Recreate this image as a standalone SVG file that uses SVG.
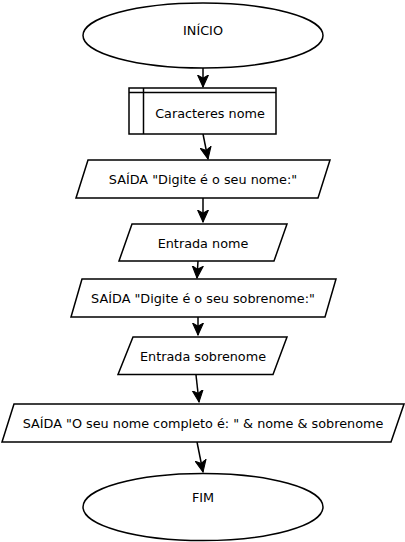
<svg xmlns="http://www.w3.org/2000/svg" width="405" height="542" viewBox="0 0 405 542">
<style>
.s{fill:#fff;stroke:#000;stroke-width:1.5}
.t{font-family:"DejaVu Sans",sans-serif;font-size:12.8px;fill:#000;text-anchor:middle;dominant-baseline:central}
.e{fill:none;stroke:#000;stroke-width:1.5}
</style>
<defs>
<marker id="a" markerUnits="userSpaceOnUse" markerWidth="13" markerHeight="13" viewBox="0 0 12 10" refX="11" refY="5" orient="auto">
<path d="M0,0 L11,5 L0,10 L3,5 z" fill="#000" stroke="#000" stroke-width="1"/>
</marker>
</defs>
<g id="edges">
<line class="e" x1="203" y1="68" x2="203" y2="87" marker-end="url(#a)"/>
<line class="e" x1="203" y1="134" x2="208" y2="159" marker-end="url(#a)"/>
<line class="e" x1="203" y1="198" x2="203" y2="222" marker-end="url(#a)"/>
<line class="e" x1="198" y1="261" x2="197" y2="278" marker-end="url(#a)"/>
<line class="e" x1="198" y1="317" x2="198" y2="335" marker-end="url(#a)"/>
<line class="e" x1="196" y1="375" x2="199" y2="402" marker-end="url(#a)"/>
<line class="e" x1="197" y1="442" x2="203" y2="472" marker-end="url(#a)"/>
</g>
<g id="inicio">
<ellipse class="s" cx="203" cy="35.5" rx="120" ry="32.5"/>
<text class="t" x="203" y="30">INÍCIO</text>
</g>
<g id="caracteres">
<rect class="s" x="129" y="88" width="147" height="46"/>
<line class="e" x1="129" y1="92.5" x2="276" y2="92.5"/>
<line class="e" x1="143.5" y1="88" x2="143.5" y2="134"/>
<text class="t" x="210" y="113">Caracteres nome</text>
</g>
<g id="saida1">
<polygon class="s" points="88,160 330,160 318,198 76,198"/>
<text class="t" x="203" y="179">SAÍDA "Digite é o seu nome:"</text>
</g>
<g id="entrada1">
<polygon class="s" points="132,224 287,224 274,261 119,261"/>
<text class="t" x="203" y="243">Entrada nome</text>
</g>
<g id="saida2">
<polygon class="s" points="82,279 336,279 325,317 71,317"/>
<text class="t" x="203" y="298">SAÍDA "Digite é o seu sobrenome:"</text>
</g>
<g id="entrada2">
<polygon class="s" points="133,337 287,337 273,374.5 118,374.5"/>
<text class="t" x="203" y="356">Entrada sobrenome</text>
</g>
<g id="saida3">
<polygon class="s" points="14,404 404,404 391,442 2,442"/>
<text class="t" x="203" y="423">SAÍDA "O seu nome completo é: " &amp; nome &amp; sobrenome</text>
</g>
<g id="fim">
<ellipse class="s" cx="203" cy="507" rx="120" ry="33.5"/>
<text class="t" x="203" y="497">FIM</text>
</g>
</svg>
